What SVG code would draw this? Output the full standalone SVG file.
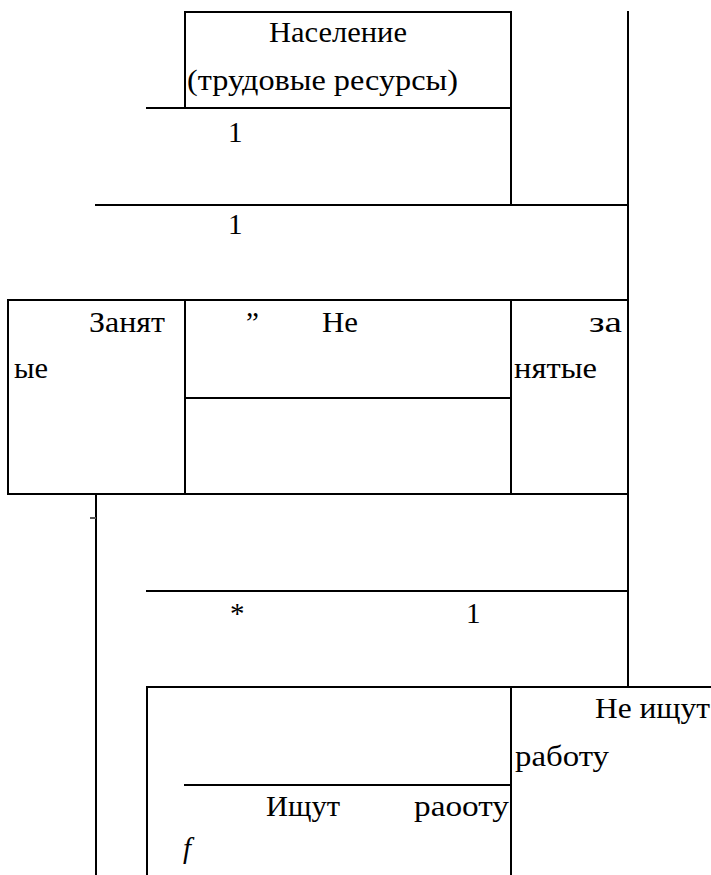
<svg xmlns="http://www.w3.org/2000/svg" width="711" height="875" viewBox="0 0 711 875">
<defs>
<style>
.ln{stroke:#000;stroke-width:2;fill:none;stroke-linecap:square}
.t{font-family:"Liberation Serif","DejaVu Serif","Noto Serif",serif;font-size:29px;fill:#000}
</style>
</defs>
<rect width="711" height="875" fill="#fff"/>
<g id="connectors">
<line class="ln" x1="628" y1="12" x2="628" y2="687"/>
<line class="ln" x1="147" y1="108" x2="185" y2="108"/>
<line class="ln" x1="511" y1="108" x2="511" y2="205"/>
<line class="ln" x1="96" y1="205" x2="628" y2="205"/>
<line class="ln" x1="96" y1="494" x2="96" y2="875"/>
<line x1="90" y1="518" x2="96" y2="518" stroke="#555" stroke-width="2"/>
<line class="ln" x1="147" y1="591" x2="628" y2="591"/>
<line class="ln" x1="511" y1="687" x2="711" y2="687"/>
</g>
<g id="population">
<rect class="ln" x="185" y="12" width="326" height="96"/>
<text class="t" x="269" y="42" textLength="138" lengthAdjust="spacingAndGlyphs">Население</text>
<text class="t" x="187" y="90" textLength="271" lengthAdjust="spacingAndGlyphs">(трудовые ресурсы)</text>
</g>
<g id="label-1a"><text class="t" x="228" y="142">1</text></g>
<g id="label-1b"><text class="t" x="228" y="234">1</text></g>
<g id="employed">
<rect class="ln" x="8" y="300" width="177" height="194"/>
<text class="t" x="89" y="332" textLength="76" lengthAdjust="spacingAndGlyphs">Занят</text>
<text class="t" x="14" y="378" textLength="34" lengthAdjust="spacingAndGlyphs">ые</text>
</g>
<g id="middle">
<rect class="ln" x="185" y="300" width="326" height="194"/>
<line class="ln" x1="185" y1="398" x2="511" y2="398"/>
<text class="t" x="246" y="332">”</text>
<text class="t" x="322" y="332" textLength="36" lengthAdjust="spacingAndGlyphs">Не</text>
</g>
<g id="unemployed">
<rect class="ln" x="511" y="300" width="117" height="194"/>
<text class="t" x="589" y="332" textLength="33" lengthAdjust="spacingAndGlyphs">за</text>
<text class="t" x="514" y="378" textLength="83" lengthAdjust="spacingAndGlyphs">нятые</text>
</g>
<g id="label-star"><text class="t" x="230" y="623">*</text></g>
<g id="label-1c"><text class="t" x="466" y="623">1</text></g>
<g id="seeking">
<line class="ln" x1="147" y1="687" x2="511" y2="687"/>
<line class="ln" x1="147" y1="687" x2="147" y2="875"/>
<line class="ln" x1="511" y1="687" x2="511" y2="875"/>
<line class="ln" x1="185" y1="785" x2="511" y2="785"/>
<text class="t" x="266" y="816" textLength="74" lengthAdjust="spacingAndGlyphs">Ищут</text>
<text class="t" x="414" y="816" textLength="95" lengthAdjust="spacingAndGlyphs">раооту</text>
<text class="t" x="183" y="858" font-style="italic">f</text>
</g>
<g id="not-seeking">
<text class="t" x="595" y="718" textLength="115" lengthAdjust="spacingAndGlyphs">Не ищут</text>
<text class="t" x="515" y="766" textLength="94" lengthAdjust="spacingAndGlyphs">работу</text>
</g>
</svg>
